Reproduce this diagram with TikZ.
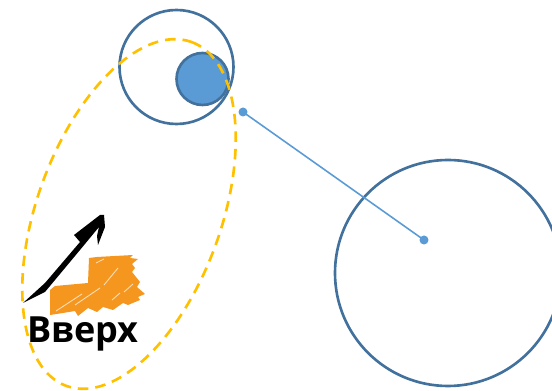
\documentclass[tikz,border=0pt]{standalone}
\usepackage{fontspec}
\setsansfont{Open Sans}
\usepackage{xcolor}
\definecolor{ringblue}{HTML}{41719C}
\definecolor{fillblue}{HTML}{5B9BD5}
\definecolor{dashyellow}{HTML}{FFC000}
\definecolor{logoorange}{HTML}{F5961E}
\tikzset{
    ring/.style={draw=ringblue,line width=1.5pt},
    orbit/.style={draw=dashyellow,line width=1.5pt,dash pattern=on 6pt off 4pt},
    streak/.style={draw=white!70!logoorange,line width=0.5pt}
}
\begin{document}
\begin{tikzpicture}[x=0.02cm,y=-0.02cm]
    \path[use as bounding box,clip] (0,0) rectangle (552,391);
    \coordinate (O1) at (176.5,67);
    \coordinate (O2) at (448,273);
    \coordinate (P) at (202.5,79);
    \coordinate (E) at (129,214);
    \coordinate (A) at (243,112);
    \coordinate (B) at (424,240);
    % Rings and the small disc
    \draw[ring] (O1) circle (57);
    \draw[ring] (O2) circle (113);
    \draw[ring,fill=fillblue] (P) circle (26);
    % Link between the two dots
    \draw[fillblue,line width=0.9pt] (A)--(B);
    \fill[fillblue] (A) circle (4.5);
    \fill[fillblue] (B) circle (4.5);
    % Logo: steps
    \fill[logoorange] (50,290)--(55,286)--(88,283)--(89,258)--(97,257)--(133,255)--(130,258)--(138,259)--(132,264)--(135,268)--(132,272)--(140,282)--(137,287)--(145,294)--(138,297)--(140,300)--(128,305)--(123,303)--(113,310)--(103,307)--(97,312)--(88,308)--(78,316)--(75,311)--(63,313)--(50,315)--cycle;
    \draw[streak] (56,311)--(82,294);
    \draw[streak] (75,305)--(100,288);
    \draw[streak] (104,285)--(118,268);
    \draw[streak] (96,263)--(104,259);
    \draw[streak] (112,300)--(120,293);
    \draw[streak] (124,292)--(133,284);
    % Logo: arrow
    \fill[black] (23,303)--(45,283)--(80,242)--(74,235)--(100,215)--(104,215)--(105,227)--(98,245)--(97,236)--(99,227)--(80,250)--(45,292)--cycle;
    \node[font=\sffamily\bfseries\fontsize{20.5}{24}\selectfont,inner sep=0pt,text=black] (label) at (83,334) {Вверх};
    % Dashed orbit
    \draw[orbit,rotate around={70:(E)}] (E) ellipse (183 and 92);
\end{tikzpicture}
\end{document}
